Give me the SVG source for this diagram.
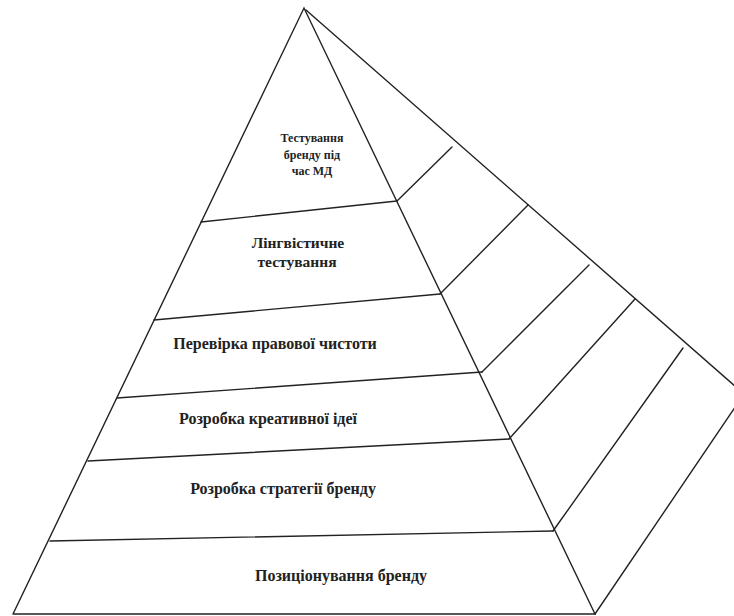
<svg xmlns="http://www.w3.org/2000/svg" width="734" height="616" viewBox="0 0 734 616">
<style>
.ln{stroke:#222;stroke-width:1.4;fill:none;stroke-linecap:round}
.t{font-family:"Liberation Serif","DejaVu Serif",serif;font-weight:bold;fill:#222;text-anchor:middle}
</style>
<rect width="734" height="616" fill="#fff"/>
<g id="connectors">
<polyline class="ln" points="13,614 304,8 595,614 13,614"/>
<line class="ln" x1="306" y1="10" x2="744" y2="394"/>
<line class="ln" x1="595" y1="614" x2="744" y2="394"/>
<line class="ln" x1="201" y1="222" x2="397" y2="201"/>
<line class="ln" x1="154" y1="320" x2="440" y2="294"/>
<line class="ln" x1="117" y1="398" x2="482" y2="372"/>
<line class="ln" x1="88" y1="461" x2="509" y2="439"/>
<line class="ln" x1="50" y1="541" x2="553" y2="531"/>
<line class="ln" x1="397" y1="201" x2="452" y2="147"/>
<line class="ln" x1="440" y1="294" x2="528" y2="205"/>
<line class="ln" x1="482" y1="372" x2="589" y2="265"/>
<line class="ln" x1="509" y1="439" x2="635" y2="299"/>
<line class="ln" x1="553" y1="531" x2="683" y2="348"/>
</g>
<g id="level6"><text class="t" font-size="12"><tspan x="312" y="142">Тестування</tspan><tspan x="312" y="159">бренду під</tspan><tspan x="312" y="175">час МД</tspan></text></g>
<g id="level5"><text class="t" font-size="15.5"><tspan x="298" y="248">Лінгвістичне</tspan><tspan x="297" y="267">тестування</tspan></text></g>
<g id="level4"><text class="t" x="275" y="349" font-size="16">Перевірка правової чистоти</text></g>
<g id="level3"><text class="t" x="268" y="424" font-size="16">Розробка креативної ідеї</text></g>
<g id="level2"><text class="t" x="283" y="494" font-size="16">Розробка стратегії бренду</text></g>
<g id="level1"><text class="t" x="341" y="581" font-size="16">Позиціонування бренду</text></g>
</svg>
